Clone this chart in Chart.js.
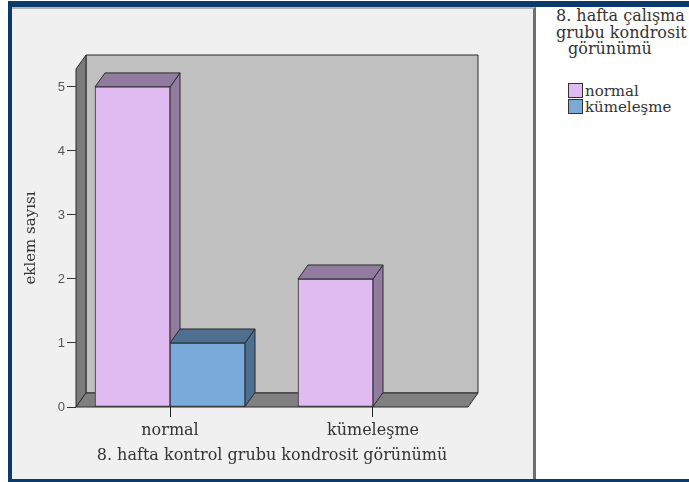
<!DOCTYPE html>
<html>
<head>
<meta charset="utf-8">
<script src="https://cdn.jsdelivr.net/npm/chart.js@4.4.0/dist/chart.umd.min.js"></script>
<style>
  html, body { margin: 0; width: 689px; height: 482px; overflow: hidden; background: #fff; }
  body { position: relative; }
  #frame { position: absolute; left: 8px; top: 1px; width: 681px; height: 481px; box-sizing: border-box;
           border-top: 6px solid #0b3a6b; border-left: 4px solid #0b3a6b; border-bottom: 3px solid #0b3a6b; }
  #panel { position: absolute; left: 12px; top: 7px; width: 524px; height: 472px; background: #f0f0f0;
           border-top: 2px solid #b4b4b4; border-right: 3px solid #6f6f6f; box-sizing: border-box; }
  #side { position: absolute; left: 536px; top: 7px; width: 153px; height: 472px; background: #fff; overflow: hidden;
          font-family: "DejaVu Serif", serif; font-size: 16px; color: #333; }
  #side .title { position: absolute; left: 20px; top: 1px; line-height: 16.5px; white-space: nowrap; }
  #side .title span { display: block; }
  #side ul { position: absolute; left: 32px; top: 76px; margin: 0; padding: 0; list-style: none; font-size: 15px; }
  #side li { height: 16px; line-height: 16px; white-space: nowrap; }
  #side li i { display: inline-block; width: 13px; height: 13px; border: 1px solid #333; vertical-align: -2px; margin-right: 2px; }
  canvas { position: absolute; left: 0; top: 0; }
</style>
</head>
<body>
<div id="frame"></div>
<div id="panel"></div>
<div id="side">
  <div class="title"><span>8. hafta çalışma</span><span>grubu kondrosit</span><span style="margin-left:12px">görünümü</span></div>
  <ul id="legend"></ul>
</div>
<canvas id="chart" width="689" height="482"></canvas>
<script>
// x categories: 8. hafta kontrol grubu
const categories = ['normal', 'kümeleşme'];
// series: 8. hafta çalışma grubu
const seriesNames = ['normal', 'kümeleşme'];
const normalCounts = [5, 2];
const kumelesmeCounts = [1, 0];
const yTicks = [0, 1, 2, 3, 4, 5];

const frontColors = ['#dfbbf2', '#7aaad9'];
const sideColors = ['#917ca0', '#4e6f8f'];
const edgeColor = '#2b2b2b';
const serif = '"DejaVu Serif", serif';

// depth of the 3d box
const DX = 10, DY = 14;

function poly(ctx, pts, fill) {
    ctx.beginPath();
    ctx.moveTo(pts[0][0], pts[0][1]);
    for (let i = 1; i < pts.length; i++) ctx.lineTo(pts[i][0], pts[i][1]);
    ctx.closePath();
    ctx.fillStyle = fill;
    ctx.fill();
    ctx.stroke();
}

// walls, floor and the top/side faces of each bar; the front faces come from chart.js
const box3d = {
    id: 'box3d',
    beforeDatasetsDraw(chart) {
        const { ctx, chartArea: a } = chart;
        ctx.save();
        ctx.lineWidth = 1;
        ctx.strokeStyle = edgeColor;
        poly(ctx, [[a.left + DX, a.top - DY], [a.right + DX, a.top - DY], [a.right + DX, a.bottom - DY], [a.left + DX, a.bottom - DY]], '#c0c0c0');
        poly(ctx, [[a.left, a.top], [a.left + DX, a.top - DY], [a.left + DX, a.bottom - DY], [a.left, a.bottom]], '#7b7b7b');
        poly(ctx, [[a.left, a.bottom], [a.left + DX, a.bottom - DY], [a.right + DX, a.bottom - DY], [a.right, a.bottom]], '#808080');

        chart.data.datasets.forEach((ds, i) => {
            chart.getDatasetMeta(i).data.forEach(bar => {
                const { x, y, base, width } = bar.getProps(['x', 'y', 'base', 'width'], true);
                if (base - y < 0.5) return;
                const l = x - width / 2, r = x + width / 2;
                poly(ctx, [[r, y], [r + DX, y - DY], [r + DX, base - DY], [r, base]], ds.sideColor);
                poly(ctx, [[l, y], [l + DX, y - DY], [r + DX, y - DY], [r, y]], ds.sideColor);
            });
        });
        ctx.restore();
    }
};

const series = [normalCounts, kumelesmeCounts];

const chart = new Chart(document.getElementById('chart'), {
    type: 'bar',
    data: {
        datasets: series.map((vals, i) => ({
            label: seriesNames[i],
            data: vals.map((v, j) => ({ x: j, y: v })),
            backgroundColor: frontColors[i],
            sideColor: sideColors[i],
            borderColor: edgeColor,
            borderWidth: 1,
            borderSkipped: false,
            barThickness: 75
        }))
    },
    options: {
        responsive: false,
        animation: false,
        devicePixelRatio: 1,
        layout: { padding: { left: 12, top: 69, right: 221, bottom: 0 } },
        plugins: { legend: { display: false }, tooltip: { enabled: false } },
        scales: {
            x: {
                type: 'linear',
                min: -0.4631,
                max: 1.468,
                offset: false,
                afterBuildTicks(s) { s.ticks = categories.map((c, i) => ({ value: i })); },
                afterFit(s) { s.height = 75; },
                border: { display: false },
                grid: { offset: false, drawOnChartArea: false, tickLength: 10, tickColor: '#222' },
                ticks: {
                    callback: v => categories[v],
                    padding: 4, maxRotation: 0, autoSkip: false,
                    color: '#333', font: { family: serif, size: 16 }
                },
                title: {
                    display: true, text: '8. hafta kontrol grubu kondrosit görünümü',
                    color: '#333', font: { family: serif, size: 16 }, padding: { top: 0, bottom: 17 }
                }
            },
            y: {
                min: 0,
                max: 5.28,
                afterBuildTicks(s) { s.ticks = yTicks.map(v => ({ value: v })); },
                afterFit(s) { s.width = 64; },
                border: { display: false },
                grid: { drawOnChartArea: false, tickLength: 9, tickColor: '#333' },
                ticks: { padding: 2, color: '#555', font: { family: '"Liberation Sans", Arial, sans-serif', size: 13 } },
                title: {
                    display: true, text: 'eklem sayısı',
                    color: '#333', font: { family: serif, size: 15 }, padding: { top: 10, bottom: 0 }
                }
            }
        }
    },
    plugins: [box3d]
});

// html legend from the chart's own legend items
const legendList = document.getElementById('legend');
Chart.defaults.plugins.legend.labels.generateLabels(chart).forEach(item => {
    const li = document.createElement('li');
    const sw = document.createElement('i');
    sw.style.background = item.fillStyle;
    li.appendChild(sw);
    li.appendChild(document.createTextNode(item.text));
    legendList.appendChild(li);
});
</script>
</body>
</html>
